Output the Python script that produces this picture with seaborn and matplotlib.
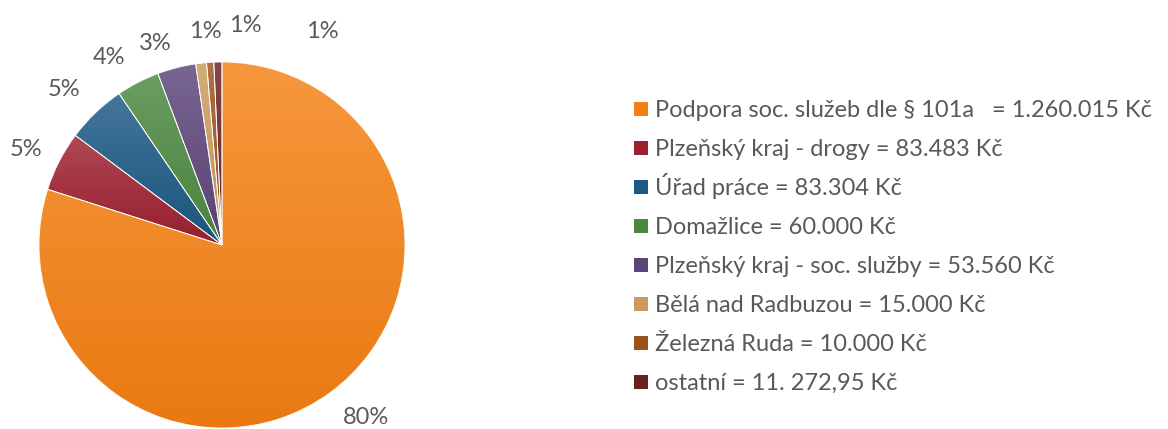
import numpy as np
import matplotlib
matplotlib.use("Agg")
import matplotlib.pyplot as plt
import matplotlib.colors as mcolors
from matplotlib.patches import Rectangle, PathPatch
import seaborn as sns

categories = [
    "Podpora soc. služeb dle § 101a   = 1.260.015 Kč",
    "Plzeňský kraj - drogy = 83.483 Kč",
    "Úřad práce = 83.304 Kč",
    "Domažlice = 60.000 Kč",
    "Plzeňský kraj - soc. služby = 53.560 Kč",
    "Bělá nad Radbuzou = 15.000 Kč",
    "Železná Ruda = 10.000 Kč",
    "ostatní = 11. 272,95 Kč",
]
values = [1260015, 83483, 83304, 60000, 53560, 15000, 10000, 11272.95]
colors = ["#F58012", "#9E1F2F", "#1B5883", "#4B883F", "#5C4479", "#C99A5C", "#9A5318", "#6A1F22"]

sns.set_theme(style="white")
plt.rcParams['font.family'] = ['Lato', 'DejaVu Sans']

W, H = 1168, 429
fig = plt.figure(figsize=(W / 100, H / 100), dpi=100)
cx, cy, R = 222, 245, 183
ax = fig.add_axes([(cx - R) / W, (H - cy - R) / H, 2 * R / W, 2 * R / H])

txt_color = "#595959"
fs = 17
wedges, texts, autotexts = ax.pie(
    values, colors=colors, startangle=90, counterclock=False,
    autopct=lambda p: f"{p:.0f}%", pctdistance=1.2, radius=1,
    wedgeprops=dict(linewidth=0.6, edgecolor="white"),
    textprops=dict(color=txt_color, fontsize=fs),
)

def mix(c, other, t):
    a = np.array(mcolors.to_rgb(c)); b = np.array(mcolors.to_rgb(other))
    return a * (1 - t) + b * t

# Excel-like vertical gradient per slice
for w, c in zip(wedges, colors):
    ext = w.get_path().get_extents(w.get_patch_transform())
    top = mix(c, "white", 0.18)
    bot = mix(c, "black", 0.05)
    t = np.linspace(0, 1, 256)[:, None]
    grad = bot[None, :] * (1 - t) + top[None, :] * t
    im = ax.imshow(grad[:, None, :], extent=[ext.x0, ext.x1, ext.y0, ext.y1], origin="lower",
                   aspect="auto", zorder=w.get_zorder() + 0.1, interpolation="bilinear")
    im.set_clip_path(w)
    ax.add_patch(PathPatch(w.get_path(), transform=w.get_transform(), facecolor="none",
                           edgecolor="white", linewidth=0.6, zorder=w.get_zorder() + 0.2))

ax.set_xlim(-1, 1)
ax.set_ylim(-1, 1)
ax.set_aspect("equal")
ax.axis("off")

# label placement as in the Excel original
def px2data(x, y):
    return ((x - cx) / R, (cy - y) / R)

label_px = [(366, 415), (26, 148), (64, 88), (109, 56), (155, 42), (205, 30), (245, 23), (322, 29)]
for t, (x, y) in zip(autotexts, label_px):
    t.set_position(px2data(x, y))
    t.set_va("center_baseline")

# legend drawn row by row (even spacing as in Excel)
sq = 14
for i, (lab, c) in enumerate(zip(categories, colors)):
    yc = 109 + 39 * i
    fig.add_artist(Rectangle((634 / W, (H - yc - sq / 2) / H), sq / W, sq / H,
                             transform=fig.transFigure, facecolor=c, edgecolor="none"))
    fig.text(655 / W, (H - yc - 8) / H, lab, fontsize=fs, color=txt_color,
             ha="left", va="baseline")

fig.savefig("out.png", dpi=100)
